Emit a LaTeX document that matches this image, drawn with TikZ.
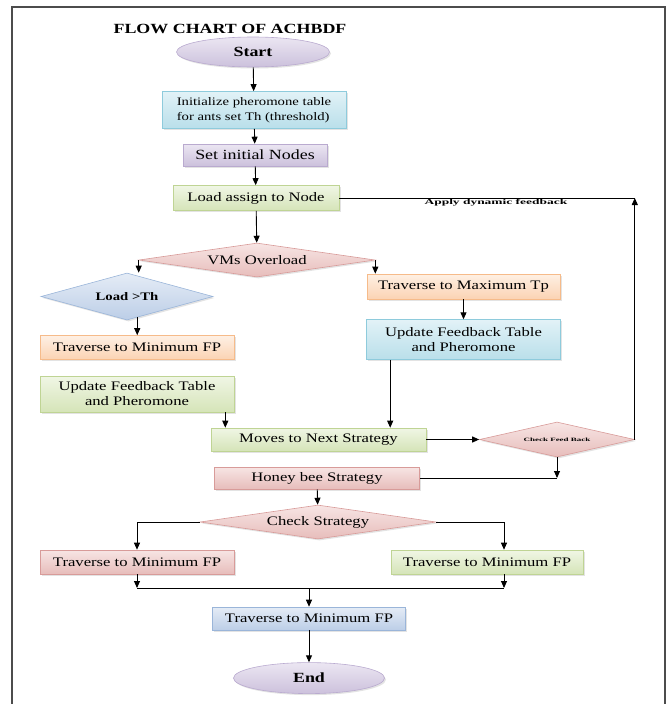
\documentclass[tikz,border=0pt]{standalone}
\usepackage{fontspec}
\setmainfont{Liberation Serif}[FakeStretch=1.28]
\usepackage{graphicx}
\usepackage{xcolor}
\usepackage{tikz}
\usetikzlibrary{arrows.meta,positioning,shapes.geometric,shadows}
\definecolor{lavtop}{HTML}{EBE6F2}
\definecolor{lavbot}{HTML}{CCC1DC}
\definecolor{lavline}{HTML}{B9AACF}
\definecolor{cyntop}{HTML}{E2F2F7}
\definecolor{cynbot}{HTML}{B9DFEA}
\definecolor{cynline}{HTML}{8ECBDC}
\definecolor{grntop}{HTML}{F0F6E5}
\definecolor{grnbot}{HTML}{D5E4B8}
\definecolor{grnline}{HTML}{BFD494}
\definecolor{redtop}{HTML}{F7E5E4}
\definecolor{redbot}{HTML}{E7BDBB}
\definecolor{redline}{HTML}{D89B99}
\definecolor{orgtop}{HTML}{FEF0E4}
\definecolor{orgbot}{HTML}{FBD3B3}
\definecolor{orgline}{HTML}{F6BB8A}
\definecolor{blutop}{HTML}{E5ECF6}
\definecolor{blubot}{HTML}{BCCEE7}
\definecolor{bluline}{HTML}{9AB5D9}
\newcommand{\fbfont}{\fontsize{7.5}{8}\selectfont\bfseries}
\newcommand{\cfbfont}{\fontsize{5}{6}\selectfont\bfseries}

\begin{document}
\begin{tikzpicture}[x=1pt,y=-1pt,>={Triangle[length=7pt,width=6pt]},
  font=\fontsize{13}{15}\selectfont,
  box/.style={rectangle,draw,line width=0.6pt,align=center,inner sep=1pt,
    drop shadow={opacity=0.22,shadow xshift=1.5pt,shadow yshift=-1.5pt}},
  oval/.style={box,ellipse,font=\fontsize{14}{15}\selectfont\bfseries},
  decide/.style={box,diamond,inner sep=0pt,aspect=5},
  lavfill/.style={top color=lavtop,bottom color=lavbot,draw=lavline},
  cynfill/.style={top color=cyntop,bottom color=cynbot,draw=cynline},
  grnfill/.style={top color=grntop,bottom color=grnbot,draw=grnline},
  redfill/.style={top color=redtop,bottom color=redbot,draw=redline},
  orgfill/.style={top color=orgtop,bottom color=orgbot,draw=orgline},
  blufill/.style={top color=blutop,bottom color=blubot,draw=bluline},
  conn/.style={line width=0.9pt}]
\useasboundingbox (0,0) rectangle (668,704);
%%Frame and title
\draw[line width=1.6pt,black!70] (12,704) -- (12,7) -- (665,7) -- (665,704);
\node (title) at (230,29) {\fontsize{14}{15}\selectfont\bfseries FLOW CHART OF ACHBDF};
%%First place the nodes
\node (start) at (253,52) [oval,lavfill,minimum width=153pt,minimum height=30pt] {Start};
\node (init) at (254,110) [box,cynfill,minimum width=184pt,minimum height=37pt,align=left,
  font=\fontsize{11.5}{15}\selectfont] {Initialize pheromone table\\for ants set Th (threshold)};
\node (setn) at (255,155) [box,lavfill,minimum width=144pt,minimum height=22pt,
  font=\fontsize{14}{15}\selectfont] {Set initial Nodes};
\node (load) at (256,198) [box,grnfill,minimum width=166pt,minimum height=25pt] {Load assign to Node};
\node (vms) at (257,260) [decide,redfill,minimum width=236pt,minimum height=34pt] {VMs Overload};
\node (loadth) at (127,296.5) [decide,blufill,minimum width=172pt,minimum height=47pt,
  font=\fontsize{11.5}{13}\selectfont\bfseries] {Load >Th};
\node (trmin1) at (137,347.5) [box,orgfill,minimum width=194pt,minimum height=24pt] {Traverse to Minimum FP};
\node (upd1) at (137,394) [box,grnfill,minimum width=194pt,minimum height=36pt] {Update Feedback Table\\and Pheromone};
\node (trmax) at (463.5,286.5) [box,orgfill,minimum width=193pt,minimum height=25pt] {Traverse to Maximum Tp};
\node (upd2) [box,cynfill,minimum width=194pt,minimum height=40pt,below=20pt of trmax] {Update Feedback Table\\and Pheromone};
\node (moves) at (318.5,439.5) [box,grnfill,minimum width=215pt,minimum height=23pt] {Moves to Next Strategy};
\node (chkfb) at (557,439.5) [decide,redfill,minimum width=155pt,minimum height=35pt,
  font=\cfbfont] {\scalebox{1.4}[1]{Check Feed Back}};
\node (honey) at (317,478) [box,redfill,minimum width=205pt,minimum height=22pt] {Honey bee Strategy};
\node (chkst) at (318,522) [decide,redfill,minimum width=236pt,minimum height=34pt] {Check Strategy};
\node (trmin2) at (137,562) [box,redfill,minimum width=194pt,minimum height=24pt] {Traverse to Minimum FP};
\node (trmin3) at (487,562) [box,grnfill,minimum width=192pt,minimum height=24pt] {Traverse to Minimum FP};
\node (trmin4) at (309,618.5) [box,blufill,minimum width=193pt,minimum height=23pt] {Traverse to Minimum FP};
\node (end) [oval,lavfill,minimum width=151pt,minimum height=31pt,below=32pt of trmin4] {End};
%%Corner points of the connectors
\coordinate (lt) at (loadth.-64);
\coordinate (u1) at ([xshift=-9pt]upd1.south east);
\coordinate (u2) at ([xshift=24pt]upd2.south west);
\coordinate (fbc) at (chkfb.east |- load.east);
\coordinate (hbc) at (chkfb.south |- honey.east);
\coordinate (t3) at ([xshift=17pt]trmin3.north);
\coordinate (t3s) at ([xshift=17pt]trmin3.south);
\coordinate (jl) at (137,588);
\coordinate (jr) at (504,588);
\coordinate (jm) at (309,588);
%%Draw the straight arrows
\draw[conn]
(start) edge[->] (init)
(init) edge[->] (setn)
(setn) edge[->] (load)
(load) edge[->] (vms)
(trmax) edge[->] (upd2)
(moves) edge[->] (chkfb)
(honey) edge[->] (chkst)
(trmin4) edge[->] (end);
%%Draw the branch arrows
\draw[conn]
(vms.west) edge[->] (vms.west |- loadth.north)
(lt) edge[->] (lt |- trmin1.north)
(u1) edge[->] (u1 |- moves.north)
(vms.east) edge[->] (vms.east |- trmax.north)
(u2) edge[->] (u2 |- moves.north)
(chkfb.south) edge[->] (hbc)
(chkfb.east) edge[->] (fbc)
(trmin2.south) edge[->] (jl)
(t3s) edge[->] (jr);
\draw[->,conn] (jm) -- (trmin4.north);
\draw[->,conn] (chkst.west) -| (trmin2.north);
\draw[->,conn] (chkst.east) -| (t3);
%%Draw the plain lines
\draw[conn]
(fbc) -- node[pos=0.47,below=0.5pt,inner sep=0pt,font=\fbfont] {\scalebox{1.4}[1]{Apply dynamic feedback}} (load.east)
(hbc) -- (honey.east)
(jl) -- (jr);
\end{tikzpicture}
\end{document}
